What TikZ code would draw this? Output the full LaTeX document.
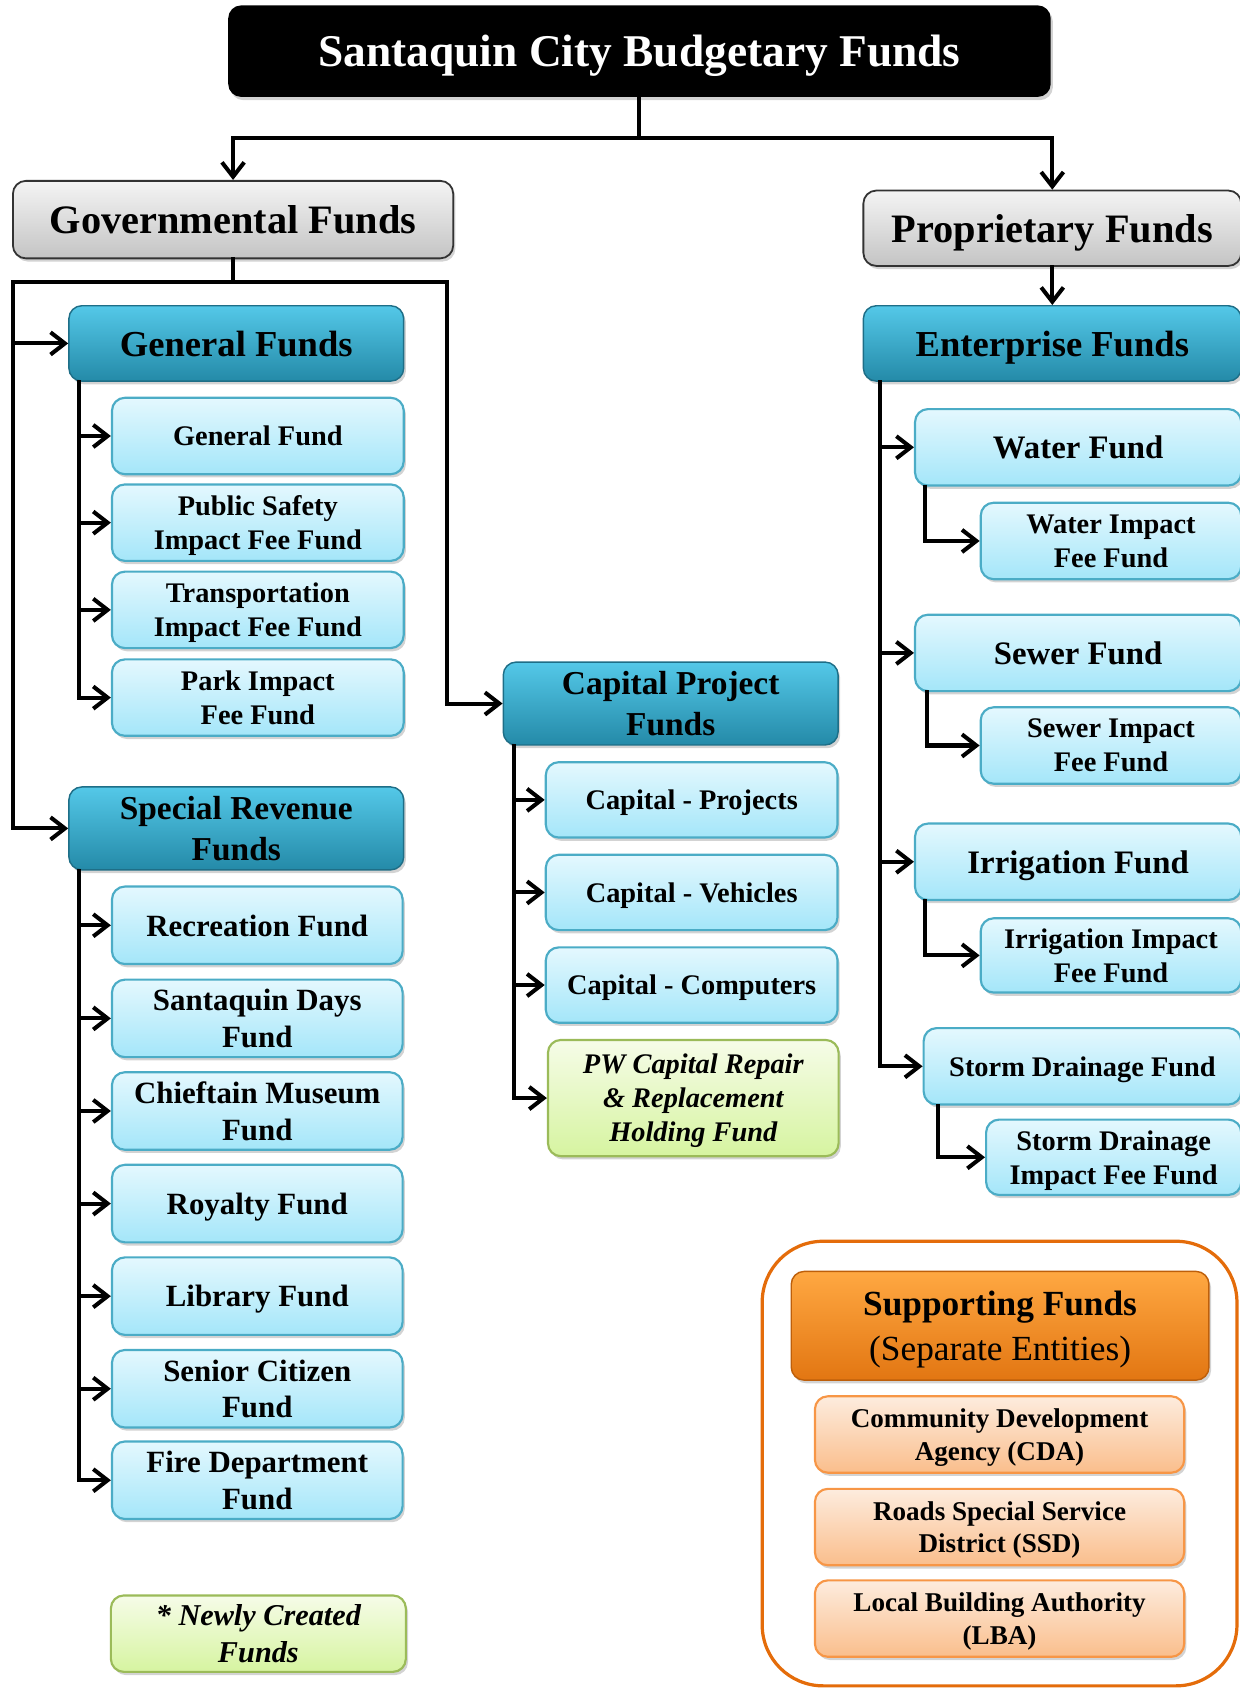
\documentclass[tikz,border=0pt]{standalone}
\usepackage{fontspec}
\setmainfont{Liberation Serif}
\usetikzlibrary{positioning,arrows.meta,shadows}

\definecolor{headtop}{RGB}{84,200,232}
\definecolor{headbot}{RGB}{36,138,168}
\definecolor{headline}{RGB}{30,110,135}
\definecolor{fundtop}{RGB}{228,248,254}
\definecolor{fundbot}{RGB}{164,230,249}
\definecolor{fundline}{RGB}{75,172,198}
\definecolor{grouptop}{RGB}{244,244,244}
\definecolor{groupbot}{RGB}{196,196,196}
\definecolor{newtop}{RGB}{246,252,232}
\definecolor{newbot}{RGB}{214,244,160}
\definecolor{newline}{RGB}{155,187,89}
\definecolor{suptop}{RGB}{255,168,66}
\definecolor{supbot}{RGB}{226,118,18}
\definecolor{supedge}{RGB}{190,95,10}
\definecolor{agtop}{RGB}{253,236,222}
\definecolor{agbot}{RGB}{250,190,140}
\definecolor{agline}{RGB}{247,150,70}
\definecolor{frameline}{RGB}{228,108,10}

\tikzset{
  box/.style={rectangle,rounded corners=3.6mm,align=center,text=black,text depth=0pt,
    drop shadow={shadow xshift=0.6mm,shadow yshift=-0.9mm,opacity=0.35}},
  title/.style={box,fill=black,text=white,font=\bfseries\fontsize{36}{43}\selectfont,
    minimum width=229.2mm,minimum height=25.5mm},
  group/.style={box,draw=black!80,line width=0.5mm,top color=grouptop,bottom color=groupbot,
    font=\bfseries\fontsize{32}{38}\selectfont,minimum height=21.6mm},
  head/.style={box,draw=headline,line width=0.4mm,top color=headtop,bottom color=headbot,
    font=\bfseries\fontsize{29}{35}\selectfont,minimum width=93.3mm,minimum height=21mm},
  bighead/.style={head,font=\bfseries\fontsize{26.5}{32}\selectfont,minimum height=23.1mm},
  fund/.style={box,draw=fundline,line width=0.6mm,top color=fundtop,bottom color=fundbot,
    font=\bfseries\fontsize{22.5}{27}\selectfont,minimum width=81.3mm,minimum height=21.3mm},
  sfund/.style={fund,font=\bfseries\fontsize{24.5}{29}\selectfont,minimum width=81mm,minimum height=21.6mm},
  efund/.style={fund,font=\bfseries\fontsize{26}{31}\selectfont,minimum width=90.9mm},
  ifund/.style={fund,minimum width=72.6mm},
  newfund/.style={fund,draw=newline,top color=newtop,bottom color=newbot,
    font=\bfseries\itshape\fontsize{22.5}{27}\selectfont},
  suphead/.style={box,draw=supedge,line width=0.4mm,top color=suptop,bottom color=supbot,
    font=\bfseries\fontsize{28}{35}\selectfont,minimum width=116.4mm,minimum height=30.3mm},
  agency/.style={box,draw=agline,line width=0.6mm,top color=agtop,bottom color=agbot,
    font=\bfseries\fontsize{21.5}{26}\selectfont,minimum width=102.9mm,minimum height=21.3mm},
  frame/.style={rectangle,draw=frameline,line width=0.9mm,rounded corners=17mm,
    minimum width=132.3mm,minimum height=123.9mm},
  conn/.style={line width=3.2pt,black,line cap=rect},
  arr/.style={conn,-{Straight Barb[length=4mm,width=6.2mm]}}
}

\begin{document}
\begin{tikzpicture}[x=0.3mm,y=-0.3mm]
    \useasboundingbox (0,0) rectangle (1151,1568);

    % top levels
    \node[title](top)at(594,47.5){Santaquin City Budgetary Funds};
    \node[group,minimum width=122.7mm](gov)at(216.5,204){Governmental Funds};
    \node[group,minimum width=105.3mm,minimum height=21mm](prop)at(977.5,212){Proprietary Funds};

    \node[head](genf)at(219.5,319){General Funds};
    \node[bighead](spec)at(219.5,769.5){Special Revenue\\Funds};
    \node[bighead](capf)at(623,653.5){Capital Project\\Funds};
    \node[head,minimum width=105.3mm](ent)at(977.5,319){Enterprise Funds};

    % general funds
    \node[fund](gf1)at(239.5,405){General Fund};
    \node[fund](gf2)at(239.5,485.5){Public Safety\\Impact Fee Fund};
    \node[fund](gf3)at(239.5,566.5){Transportation\\Impact Fee Fund};
    \node[fund](gf4)at(239.5,648){Park Impact\\Fee Fund};

    % special revenue funds
    \node[sfund](sr1)at(239,859.5){Recreation Fund};
    \node[sfund](sr2)at(239,946){Santaquin Days\\Fund};
    \node[sfund](sr3)at(239,1032){Chieftain Museum\\Fund};
    \node[sfund](sr4)at(239,1118){Royalty Fund};
    \node[sfund](sr5)at(239,1204){Library Fund};
    \node[sfund](sr6)at(239,1290){Senior Citizen\\Fund};
    \node[sfund](sr7)at(239,1375){Fire Department\\Fund};

    % capital project funds
    \node[fund,minimum height=21mm](cp1)at(642.5,743){Capital - Projects};
    \node[fund,minimum height=21mm](cp2)at(642.5,829){Capital - Vehicles};
    \node[fund,minimum height=21mm](cp3)at(642.5,915){Capital - Computers};
    \node[newfund,minimum width=81mm,minimum height=32.4mm](cp4)at(644,1020){PW Capital Repair\\\& Replacement\\Holding Fund};

    % enterprise funds
    \node[efund](wf)at(1001.5,415.5){Water Fund};
    \node[ifund](wi)at(1032,502.5){Water Impact\\Fee Fund};
    \node[efund](sf)at(1001.5,606.5){Sewer Fund};
    \node[ifund](si)at(1032,692.5){Sewer Impact\\Fee Fund};
    \node[efund](irf)at(1001.5,800.5){Irrigation Fund};
    \node[ifund,minimum height=20.7mm](iri)at(1032,887.5){Irrigation Impact\\Fee Fund};
    \node[fund,minimum width=88.5mm](sdf)at(1005.5,990.5){Storm Drainage Fund};
    \node[ifund,minimum width=71.1mm,minimum height=21mm](sdi)at(1034.5,1075){Storm Drainage\\Impact Fee Fund};

    % supporting funds
    \node[frame](supp)at(928.5,1359.5){};
    \node[suphead](suph)at(929,1231.5){Supporting Funds\\{\mdseries (Separate Entities)}};
    \node[agency](ag1)at(928.5,1332.5){Community Development\\Agency (CDA)};
    \node[agency](ag2)at(928.5,1418.5){Roads Special Service\\District (SSD)};
    \node[agency](ag3)at(928.5,1503.5){Local Building Authority\\(LBA)};

    \node[newfund,minimum width=82.2mm,font=\bfseries\itshape\fontsize{24}{29}\selectfont](newf)at(240,1517.5){* Newly Created\\Funds};

    % connectors
    \coordinate(split)at(594,128);
    \draw[conn](top.south)--(split);
    \draw[arr](split)-|(gov.north);
    \draw[arr](split)-|(prop.north);
    \draw[arr](prop.south)--(ent.north);

    \coordinate(govl)at(12,262);
    \coordinate(govr)at(415,262);
    \draw[conn](gov.south)|-(govl);
    \draw[conn](gov.south)|-(govr);
    \draw[arr](govl)|-(genf.west);
    \draw[arr](govl)|-(spec.west);
    \draw[arr](govr)|-(capf.west);

    \coordinate(gtr)at([xshift=3mm]genf.south west);
    \draw[arr](gtr)|-(gf1.west);
    \draw[arr](gtr)|-(gf2.west);
    \draw[arr](gtr)|-(gf3.west);
    \draw[arr](gtr)|-(gf4.west);

    \coordinate(str)at([xshift=3mm]spec.south west);
    \draw[arr](str)|-(sr1.west);
    \draw[arr](str)|-(sr2.west);
    \draw[arr](str)|-(sr3.west);
    \draw[arr](str)|-(sr4.west);
    \draw[arr](str)|-(sr5.west);
    \draw[arr](str)|-(sr6.west);
    \draw[arr](str)|-(sr7.west);

    \coordinate(ctr)at([xshift=3.3mm]capf.south west);
    \draw[arr](ctr)|-(cp1.west);
    \draw[arr](ctr)|-(cp2.west);
    \draw[arr](ctr)|-(cp3.west);
    \draw[arr](ctr)|-(cp4.west);

    \coordinate(etr)at([xshift=4.8mm]ent.south west);
    \draw[arr](etr)|-(wf.west);
    \draw[arr](etr)|-(sf.west);
    \draw[arr](etr)|-(irf.west);
    \draw[arr](etr)|-(sdf.west);

    \draw[arr]([xshift=3mm]wf.south west)|-(wi.west);
    \draw[arr]([xshift=3.6mm]sf.south west)|-(si.west);
    \draw[arr]([xshift=3mm]irf.south west)|-(iri.west);
    \draw[arr]([xshift=4.2mm]sdf.south west)|-(sdi.west);

\end{tikzpicture}
\end{document}
